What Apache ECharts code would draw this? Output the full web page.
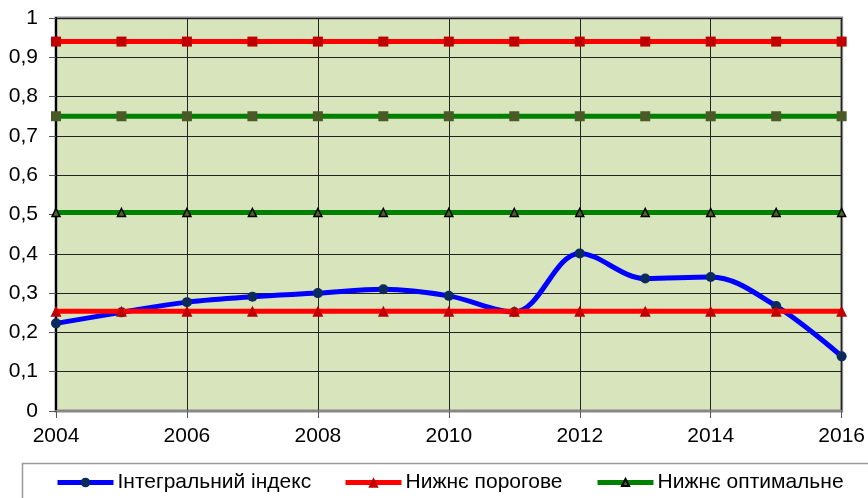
<!DOCTYPE html>
<html>
<head>
<meta charset="utf-8">
<script src="https://cdn.jsdelivr.net/npm/echarts@6/dist/echarts.min.js"></script>
<style>
  html, body { margin: 0; padding: 0; background: #fff; }
  #chart { width: 868px; height: 498px; }
</style>
</head>
<body>
<div id="chart"></div>
<script>
// Years along the horizontal axis
const years = [2004, 2005, 2006, 2007, 2008, 2009, 2010, 2011, 2012, 2013, 2014, 2015, 2016];

// Integral index by year
const integralIndex = [0.223, 0.251, 0.277, 0.291, 0.300, 0.310, 0.293, 0.252, 0.401, 0.337, 0.341, 0.267, 0.139];

// Reference levels (constant per year)
const lowerThreshold = [0.254, 0.254, 0.254, 0.254, 0.254, 0.254, 0.254, 0.254, 0.254, 0.254, 0.254, 0.254, 0.254];
const lowerOptimal = [0.505, 0.505, 0.505, 0.505, 0.505, 0.505, 0.505, 0.505, 0.505, 0.505, 0.505, 0.505, 0.505];
const upperOptimal = [0.75, 0.75, 0.75, 0.75, 0.75, 0.75, 0.75, 0.75, 0.75, 0.75, 0.75, 0.75, 0.75];
const upperThreshold = [0.94, 0.94, 0.94, 0.94, 0.94, 0.94, 0.94, 0.94, 0.94, 0.94, 0.94, 0.94, 0.94];

// Series names
const seriesNames = ['Інтегральний індекс', 'Нижнє порогове', 'Нижнє оптимальне', 'Верхнє оптимальне', 'Верхнє порогове'];

const pairs = vals => years.map((y, i) => [y, vals[i]]);
const fontFamily = '"Liberation Sans", Arial, sans-serif';

// One legend block per entry so each key keeps its own marker size
function legendBlock(name, left, height) {
  return {
    data: [name],
    left: left,
    top: 472,
    padding: 0,
    itemWidth: 56,
    itemHeight: height,
    lineStyle: { width: 5 },
    textStyle: { fontSize: 21, color: '#000', fontFamily: fontFamily, padding: [0, 0, 0, -1] }
  };
}

const chart = echarts.init(document.getElementById('chart'), null, { renderer: 'canvas' });

chart.setOption({
  animation: false,
  backgroundColor: '#ffffff',
  textStyle: { fontFamily: fontFamily },
  grid: {
    left: 56, right: 25, top: 18, bottom: 87,
    show: true,
    backgroundColor: '#D8E4BC',
    borderColor: '#858585',
    borderWidth: 3
  },
  graphic: [{
    type: 'rect',
    shape: { x: 22.5, y: 463.5, width: 900, height: 60 },
    style: { fill: 'none', stroke: '#9a9a9a', lineWidth: 1.5 },
    silent: true
  }],
  legend: [
    legendBlock(seriesNames[0], 55, 12),
    legendBlock(seriesNames[1], 343, 13),
    legendBlock(seriesNames[2], 595, 9)
  ],
  xAxis: {
    type: 'value',
    min: 2004, max: 2016, interval: 2,
    axisLine: { show: true, lineStyle: { color: '#888888', width: 2 } },
    axisTick: { show: true, length: 7, lineStyle: { color: '#555' } },
    axisLabel: { fontSize: 21, color: '#000', margin: 15, formatter: v => String(v) },
    splitLine: { show: true, lineStyle: { color: '#222', width: 1 } }
  },
  yAxis: {
    type: 'value',
    min: 0, max: 1, interval: 0.1,
    axisLine: { show: true, lineStyle: { color: '#000', width: 2 } },
    axisTick: { show: true, length: 7, lineStyle: { color: '#555' } },
    axisLabel: {
      fontSize: 21, color: '#000', margin: 18,
      formatter: v => String(Math.round(v * 10) / 10).replace('.', ',')
    },
    splitLine: { show: true, lineStyle: { color: '#222', width: 1 } }
  },
  series: [
    {
      name: seriesNames[0], type: 'line', data: pairs(integralIndex),
      smooth: 0.35, z: 3,
      lineStyle: { color: '#0000FF', width: 5 },
      itemStyle: { color: '#0B2A5E' },
      symbol: 'circle', symbolSize: 10
    },
    {
      name: seriesNames[1], type: 'line', data: pairs(lowerThreshold), z: 4,
      lineStyle: { color: '#FF0000', width: 5 },
      itemStyle: { color: '#C00000' },
      symbol: 'triangle', symbolSize: 11
    },
    {
      name: seriesNames[2], type: 'line', data: pairs(lowerOptimal), z: 4,
      lineStyle: { color: '#008000', width: 5 },
      itemStyle: { color: '#4F6228', borderColor: '#000', borderWidth: 1.5 },
      symbol: 'triangle', symbolSize: 8
    },
    {
      name: seriesNames[3], type: 'line', data: pairs(upperOptimal), z: 4,
      lineStyle: { color: '#008000', width: 5 },
      itemStyle: { color: '#4A5A26' },
      symbol: 'rect', symbolSize: 10
    },
    {
      name: seriesNames[4], type: 'line', data: pairs(upperThreshold), z: 4,
      lineStyle: { color: '#FF0000', width: 5 },
      itemStyle: { color: '#C00000' },
      symbol: 'rect', symbolSize: 10
    }
  ]
});
</script>
</body>
</html>
